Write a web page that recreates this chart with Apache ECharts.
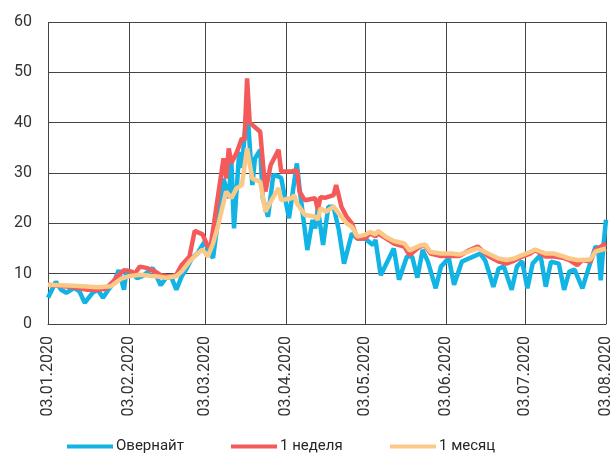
<!DOCTYPE html>
<html>
<head>
<meta charset="utf-8">
<script src="https://cdn.jsdelivr.net/npm/echarts@6/dist/echarts.min.js"></script>
<style>
html,body{margin:0;padding:0;background:#fff;}
#chart{width:614px;height:459px;}
</style>
</head>
<body>
<div id="chart"></div>
<script>
// ---- Data ----
var seriesNames = ['Овернайт', '1 неделя', '1 месяц'];
var tickLabels = ['03.01.2020','03.02.2020','03.03.2020','03.04.2020','03.05.2020','03.06.2020','03.07.2020','03.08.2020'];
var yTicks = [0, 10, 20, 30, 40, 50, 60];

var overnightDates = ['03.01','06.01','08.01','10.01','13.01','15.01','17.01','20.01','22.01','24.01','26.01','28.01','30.01',
  '01.02','02.02','04.02','06.02','08.02','12.02','13.02','15.02','17.02','19.02','21.02','23.02','25.02','27.02','29.02',
  '02.03','03.03','04.03','06.03','10.03','12.03','13.03','14.03','16.03','17.03','19.03','21.03','22.03','24.03','25.03','27.03','29.03','31.03',
  '01.04','04.04','07.04','08.04','11.04','13.04','14.04','15.04','17.04','19.04','21.04','23.04','25.04','28.04','30.04',
  '03.05','06.05','07.05','09.05','14.05','16.05','19.05','21.05','23.05','25.05','27.05','30.05',
  '01.06','04.06','06.06','09.06','12.06','16.06','18.06','21.06','23.06','25.06','28.06','30.06',
  '02.07','04.07','06.07','09.07','11.07','13.07','16.07','18.07','20.07','22.07','25.07','27.07','30.07','31.07',
  '01.08','02.08','03.08'];
var overnight = [5.2,8.4,6.8,6.2,7.2,6.5,4.2,6.2,6.8,5.2,6.8,8.1,10.7,
  6.8,10.7,10.1,9.1,9.5,11.1,10,7.7,9.1,9.4,6.8,9.4,11.1,13.1,14,
  15.7,16.5,14.8,13.1,28.9,25,32.3,19,34.2,31,43.5,27.6,32.9,34.6,25,21.3,29.6,29.3,
  29,21,31.9,27,14.7,20.7,19,23,15.7,23.3,23.3,18.7,12,18,17,
  17,15.7,16.7,9.7,15,8.8,13.4,13.4,9.2,14.7,12.4,7.1,
  11.4,13.1,7.8,12.4,13.1,14,12.5,7.4,11,11.4,6.8,11.4,
  12.5,7.1,12,13.7,7.4,12.4,12,6.8,10.4,10.8,7.1,10.5,15.4,15,
  8.7,15.5,20.7];

var weekDates = ['03.01','07.01','13.01','18.01','22.01','25.01','28.01','30.01',
  '01.02','04.02','05.02','07.02','10.02','11.02','13.02','15.02','19.02','21.02','23.02','26.02','28.02',
  '02.03','04.03','05.03','10.03','11.03','12.03','13.03','15.03','17.03','18.03','19.03','20.03','24.03','26.03','28.03','31.03',
  '01.04','05.04','07.04','08.04','10.04','14.04','15.04','16.04','18.04','21.04','22.04','24.04','26.04','28.04','30.04',
  '03.05','05.05','07.05','08.05','11.05','14.05','18.05','20.05','24.05','26.05','28.05',
  '01.06','05.06','08.06','12.06','15.06','19.06','23.06','26.06','29.06',
  '02.07','05.07','07.07','11.07','14.07','18.07','20.07','23.07','25.07','28.07','30.07','03.08'];
var week = [7.8,7.6,7.3,6.8,6.8,7,8.5,9.8,
  10.7,10.4,9.9,11.4,11.1,10.8,10.4,9.7,9.4,9.8,11.7,13.4,18.5,
  17.8,15.4,15.2,32.9,28.9,34.9,32,34,36.9,36.5,48.8,40,38.2,26.3,31.6,34.6,
  30.3,30.3,30.6,26.3,24.6,25,22.7,25.2,25.1,25.6,27.6,23.3,21.3,20,17,
  17,18,17.4,18,17,16,15.4,13.7,15.4,15.6,14,
  13.5,13.5,13.5,14.7,15.4,13.5,12.4,12,12.6,
  13.4,14,14.7,13.4,13.4,13.1,12.7,11.7,12.7,12.4,14.7,16];

var monthDates = ['03.01','13.01','22.01','27.01','31.01',
  '03.02','07.02','13.02','17.02','21.02','23.02','26.02','29.02',
  '02.03','04.03','06.03','08.03','11.03','13.03','15.03','17.03','19.03','21.03','24.03','26.03','28.03','31.03',
  '01.04','05.04','06.04','07.04','10.04','14.04','15.04','16.04','18.04','21.04','24.04','26.04','28.04','30.04',
  '03.05','05.05','07.05','08.05','11.05','14.05','18.05','20.05','24.05','26.05','28.05',
  '01.06','05.06','08.06','12.06','15.06','19.06','23.06','26.06','29.06',
  '02.07','05.07','07.07','11.07','14.07','18.07','20.07','23.07','25.07','28.07','30.07','03.08'];
var month = [7.8,7.6,7.3,7.5,9,
  9.5,9.8,9.5,9.2,9.5,10.4,12.4,14,
  14.8,13.4,16,19.7,26.3,25,27,27.6,34.9,28.9,28.3,22.3,24.3,27,
  24.6,25,25.6,24,21.7,21.3,20.7,23,22.3,23.3,21.3,20,19.3,17.4,
  17.7,18.3,17.8,18.5,17.3,16.5,16,14.6,15.6,15.8,14.3,
  14,14,13.8,14.5,15,14,13,12.7,13,
  13.7,14.3,14.8,14,14,13.4,13,12.7,12.7,12.8,14.4,15];

// ---- Build axis categories (every calendar day) ----
function pad(n){return (n<10?'0':'')+n;}
var categories = [];
var start = new Date(Date.UTC(2020,0,3));
var end = new Date(Date.UTC(2020,7,3));
for (var t = start.getTime(); t <= end.getTime(); t += 86400000) {
  var d = new Date(t);
  categories.push(pad(d.getUTCDate()) + '.' + pad(d.getUTCMonth()+1) + '.' + d.getUTCFullYear());
}
function build(dates, vals){
  return dates.map(function(ds, i){ return [categories.indexOf(ds + '.2020'), vals[i]]; });
}
function isTick(idx, val){ return tickLabels.indexOf(val) >= 0; }

var FONT = "Roboto, 'Liberation Sans', sans-serif";
var colors = ['#12B4E6', '#F55A5A', '#FBC987'];

function legendItem(name, left){
  return {data:[name], left: left, top: 439, padding: 0, icon:'rect', itemWidth:46, itemHeight:4,
    textStyle:{fontFamily:FONT, fontSize:15, color:'#262626', padding:[0,0,0,-2]}};
}

var chart = echarts.init(document.getElementById('chart'), null, {renderer:'canvas'});
chart.setOption({
  animation: false,
  color: colors,
  textStyle: {fontFamily: FONT},
  grid: {left: 48, right: 6, top: 22, bottom: 135, containLabel: false},
  legend: [legendItem(seriesNames[0], 67), legendItem(seriesNames[1], 231), legendItem(seriesNames[2], 390)],
  xAxis: {
    type: 'category',
    data: categories,
    boundaryGap: false,
    axisLine: {show: true, lineStyle: {color: '#444', width: 1}},
    axisTick: {show: false},
    axisLabel: {interval: isTick, rotate: 90, margin: 12, fontSize: 16, color: '#333', fontFamily: FONT},
    splitLine: {show: true, interval: isTick, lineStyle: {color: '#444', width: 1}}
  },
  yAxis: {
    type: 'value',
    min: yTicks[0], max: yTicks[yTicks.length-1], interval: 10,
    axisLine: {show: false},
    axisTick: {show: false},
    axisLabel: {margin: 16, fontSize: 16, color: '#333', fontFamily: FONT},
    splitLine: {show: true, lineStyle: {color: '#444', width: 1}}
  },
  series: [
    {name: seriesNames[0], type:'line', data: build(overnightDates, overnight), showSymbol:false, symbol:'none',
     lineStyle:{width:4.5, color: colors[0]}, z: 2},
    {name: seriesNames[1], type:'line', data: build(weekDates, week), showSymbol:false, symbol:'none',
     lineStyle:{width:4.5, color: colors[1]}, z: 3},
    {name: seriesNames[2], type:'line', data: build(monthDates, month), showSymbol:false, symbol:'none',
     lineStyle:{width:4.5, color: colors[2]}, z: 4}
  ]
});
</script>
</body>
</html>
